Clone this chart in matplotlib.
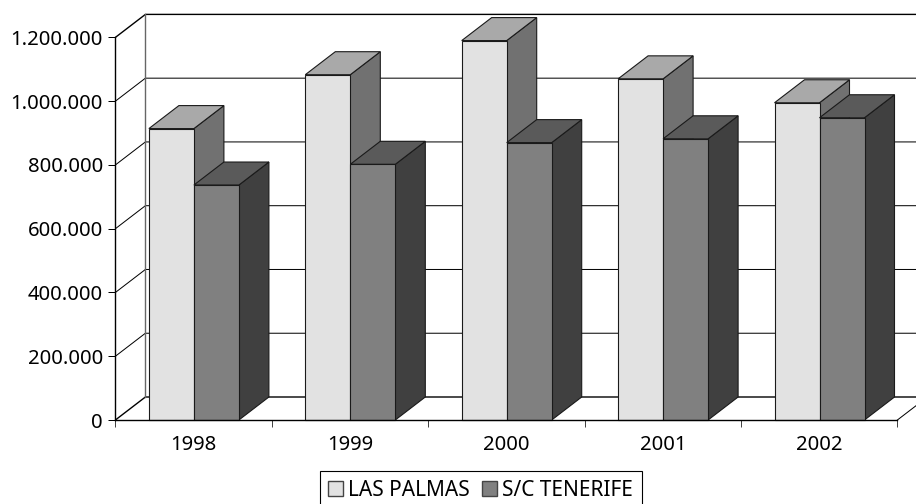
import matplotlib
matplotlib.use("Agg")
import matplotlib.pyplot as plt
from matplotlib.patches import Polygon, Patch

plt.rcParams['font.family'] = ['Noto Sans', 'DejaVu Sans']

years = ['1998', '1999', '2000', '2001', '2002']
las_palmas = [914000, 1083000, 1190000, 1070000, 995000]
tenerife = [737000, 802000, 870000, 882000, 948000]
yticks = [0, 200000, 400000, 600000, 800000, 1000000, 1200000]
yticklabels = ['0', '200.000', '400.000', '600.000', '800.000', '1.000.000', '1.200.000']

W, H = 916, 504
fig = plt.figure(figsize=(W / 100, H / 100), dpi=100, facecolor='white')
L, R, T, B = 115.4, 897.4, 37.4, 420.0
ax = fig.add_axes([L / W, 1 - B / H, (R - L) / W, (B - T) / H])
ax.set_xlim(0, 5)
ax.set_ylim(0, 1200000)
ax.patch.set_alpha(0)

DX = 30 * 5 / (R - L)
DY = 23 * 1200000 / (B - T)
BAR = 45 * 5 / (R - L)
GAP = 33.5 * 5 / (R - L)
LW = 0.8
XMAX = 5 + DX

# walls and gridlines
for v in yticks:
    ax.plot([0, DX, XMAX], [v, v + DY, v + DY], color='black',
            lw=1.0 if v in (0, 1200000) else 0.72, clip_on=False, zorder=1,
            solid_capstyle='butt')
ax.plot([DX, DX], [DY, 1200000 + DY], color='#666666', lw=1.0, clip_on=False, zorder=1)
ax.plot([5, XMAX], [0, DY], color='black', lw=0.72, clip_on=False, zorder=1)


def bar3d(x, v, front, top, side, z):
    kw = dict(edgecolor='#1a1a1a', lw=LW, joinstyle='miter', clip_on=False, zorder=z)
    ax.add_patch(Polygon([(x + BAR, 0), (x + BAR + DX, DY), (x + BAR + DX, v + DY), (x + BAR, v)],
                         facecolor=side, **kw))
    ax.add_patch(Polygon([(x, v), (x + DX, v + DY), (x + BAR + DX, v + DY), (x + BAR, v)],
                         facecolor=top, **kw))
    ax.add_patch(Polygon([(x, 0), (x + BAR, 0), (x + BAR, v), (x, v)],
                         facecolor=front, **kw))


for i in range(len(years)):
    bar3d(i + GAP, las_palmas[i], '#E2E2E2', '#A9A9A9', '#717171', 3 + 2 * i)
    bar3d(i + GAP + BAR, tenerife[i], '#808080', '#5A5A5A', '#404040', 4 + 2 * i)

for s in ('top', 'right'):
    ax.spines[s].set_visible(False)
for s in ('left', 'bottom'):
    ax.spines[s].set_color('black')
    ax.spines[s].set_linewidth(1.0)
    ax.spines[s].set_zorder(30)

ax.set_yticks(yticks)
ax.set_yticklabels(yticklabels, fontsize=14.6)
ax.tick_params(axis='y', length=5, width=0.72, pad=4)
ax.set_xticks(range(6))
ax.set_xticklabels([])
ax.tick_params(axis='x', which='major', length=5, width=0.72, color='#444444')
ax.set_xticks([i + 0.5 for i in range(5)], minor=True)
ax.set_xticklabels(years, minor=True, fontsize=14.6)
ax.tick_params(axis='x', which='minor', length=0, pad=11)

handles = [Patch(facecolor='#E2E2E2', edgecolor='#444444', label='LAS PALMAS'),
           Patch(facecolor='#808080', edgecolor='#444444', label='S/C TENERIFE')]
leg = fig.legend(handles=handles, loc='center', ncol=2,
                 bbox_to_anchor=(480.5 / W, 1 - 490 / H), bbox_transform=fig.transFigure,
                 fontsize=15, frameon=True, fancybox=False, edgecolor='black',
                 framealpha=1, handlelength=0.72, handleheight=0.72, handletextpad=0.25,
                 columnspacing=0.55, borderpad=0.42, borderaxespad=0)
leg.get_frame().set_linewidth(0.8)

fig.savefig('out.png', dpi=100, facecolor='white')
